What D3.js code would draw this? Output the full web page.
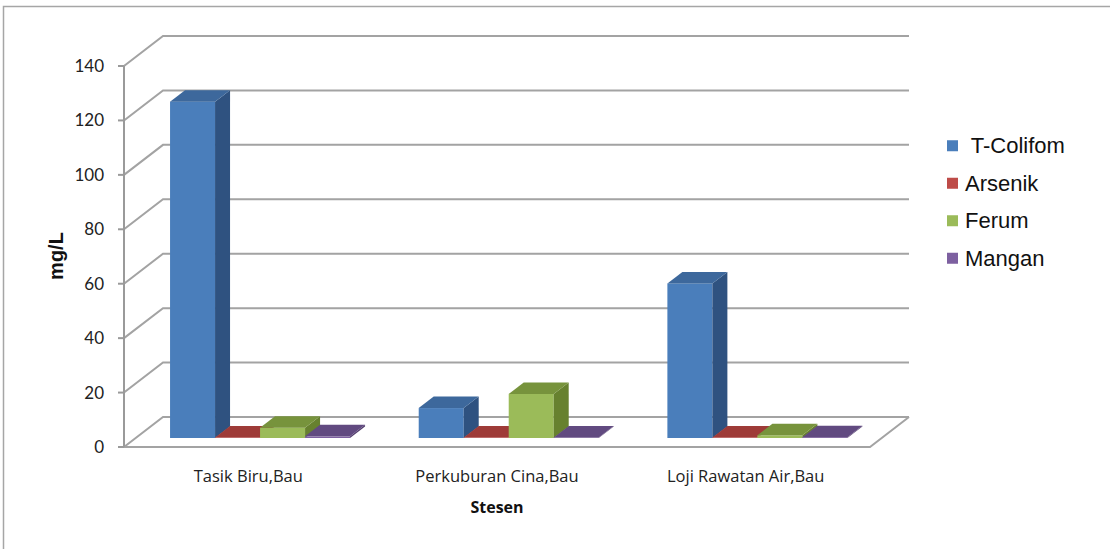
<!DOCTYPE html>
<html><head><meta charset="utf-8">
<script src="https://cdn.jsdelivr.net/npm/d3@7"></script>
<style>html,body{margin:0;padding:0;background:#fff;}svg{display:block;}</style>
</head><body>
<svg id="chart" width="1110" height="549"></svg>
<script>
const categories = ["Tasik Biru,Bau", "Perkuburan Cina,Bau", "Loji Rawatan Air,Bau"];
const seriesNames = [" T-Colifom", "Arsenik", "Ferum", "Mangan"];
const tColiform = [123.6, 11.0, 56.8];
const arsenik = [0.2, 0.2, 0.2];
const ferum = [3.8, 16.2, 1.0];
const mangan = [0.6, 0.2, 0.3];
const yTicks = [0, 20, 40, 60, 80, 100, 120, 140];
const yTitle = "mg/L";
const xTitle = "Stesen";

const seriesValues = [tColiform, arsenik, ferum, mangan];
const colors = [
  {front:"#4A7EBB", top:"#3D689C", side:"#2F5280"},
  {front:"#BE4B48", top:"#9E3B38", side:"#8C3230"},
  {front:"#9BBB59", top:"#77933C", side:"#67812F"},
  {front:"#7D60A0", top:"#614A80", side:"#533E6E"}
];

const svg = d3.select("#chart");
// outer frame
svg.append("rect").attr("x",3.5).attr("y",6.5).attr("width",1120).attr("height",560)
  .attr("fill","none").attr("stroke","#a6a6a6").attr("stroke-width",1.5);

const x0 = 124, x1 = 870;
const wallDx = 39, wallDy = -30;
const y = d3.scaleLinear().domain([0,140]).range([447,66]);
const x = d3.scaleBand().domain(categories).range([x0,x1]).padding(0);

const grid = svg.append("g");
yTicks.forEach(t => {
  const yy = y(t);
  grid.append("polyline")
    .attr("points", `${x0},${yy} ${x0+wallDx},${yy+wallDy} ${x1+wallDx},${yy+wallDy}`)
    .attr("fill","none").attr("stroke","#a3a3a3").attr("stroke-width",2);
});
grid.append("polyline")
  .attr("points", `${x0},${y(0)} ${x1},${y(0)} ${x1+wallDx},${y(0)+wallDy}`)
  .attr("fill","none").attr("stroke","#a3a3a3").attr("stroke-width",2);
grid.append("line").attr("x1",x0).attr("x2",x0).attr("y1",y(140)).attr("y2",y(0))
  .attr("stroke","#9a9a9a").attr("stroke-width",2);
yTicks.forEach(t => {
  grid.append("line").attr("x1",x0-6).attr("x2",x0).attr("y1",y(t)).attr("y2",y(t))
    .attr("stroke","#9a9a9a").attr("stroke-width",2);
  svg.append("text").attr("x",104).attr("y",y(t)).attr("dy","0.35em")
    .attr("text-anchor","end").attr("font-family","Lato, 'Open Sans', sans-serif")
    .attr("font-size",17).attr("fill","#222").text(t);
});

// bars
const fDx = 11.7, fDy = -9;
const bDx = 15, bDy = -11.5;
const inner = d3.scaleBand().domain(seriesNames).range([34.35, 214.35]).padding(0);
const bars = svg.append("g");
categories.forEach((c, ci) => {
  seriesNames.forEach((s, si) => {
    const v = seriesValues[si][ci];
    const xl = x(c) + inner(s) + fDx;
    const w = inner.bandwidth();
    const yt = y(v) + fDy, yb = y(0) + fDy;
    const col = colors[si];
    bars.append("rect").attr("x",xl).attr("y",yt).attr("width",w).attr("height",Math.max(0,yb-yt))
      .attr("fill",col.front);
    bars.append("polygon")
      .attr("points",`${xl+w},${yt} ${xl+w+bDx},${yt+bDy} ${xl+w+bDx},${yb+bDy} ${xl+w},${yb}`)
      .attr("fill",col.side);
    bars.append("polygon")
      .attr("points",`${xl},${yt} ${xl+w},${yt} ${xl+w+bDx},${yt+bDy} ${xl+bDx},${yt+bDy}`)
      .attr("fill",col.top);
  });
});

// category labels
categories.forEach(c => {
  svg.append("text").attr("x",x(c)+x.bandwidth()/2).attr("y",476).attr("dy","0.35em")
    .attr("text-anchor","middle").attr("font-family","'Open Sans', Lato, sans-serif")
    .attr("font-size",16.5).attr("fill","#222").text(c);
});
svg.append("text").attr("x",(x0+x1)/2).attr("y",507).attr("dy","0.35em")
  .attr("text-anchor","middle").attr("font-family","'Open Sans', Lato, sans-serif")
  .attr("font-weight","bold").attr("font-size",16).attr("fill","#111").text(xTitle);
svg.append("text").attr("transform","translate(56,256) rotate(-90)").attr("dy","0.35em")
  .attr("text-anchor","middle").attr("font-family","'Liberation Sans', Arial, sans-serif")
  .attr("font-weight","bold").attr("font-size",20).attr("fill","#111").text(yTitle);

// legend
const legY = d3.scaleBand().domain(seriesNames).range([127,277]);
seriesNames.forEach((s, si) => {
  const cy = legY(s) + legY.bandwidth()/2;
  svg.append("rect").attr("x",947).attr("y",cy-5.5).attr("width",11).attr("height",11)
    .attr("fill",colors[si].front);
  svg.append("text").attr("x",965).attr("y",cy).attr("dy","0.35em")
    .attr("font-family","'Liberation Sans', Arial, sans-serif").attr("font-size",22)
    .attr("fill","#111").style("white-space","pre").text(s);
});
</script>
</body></html>
